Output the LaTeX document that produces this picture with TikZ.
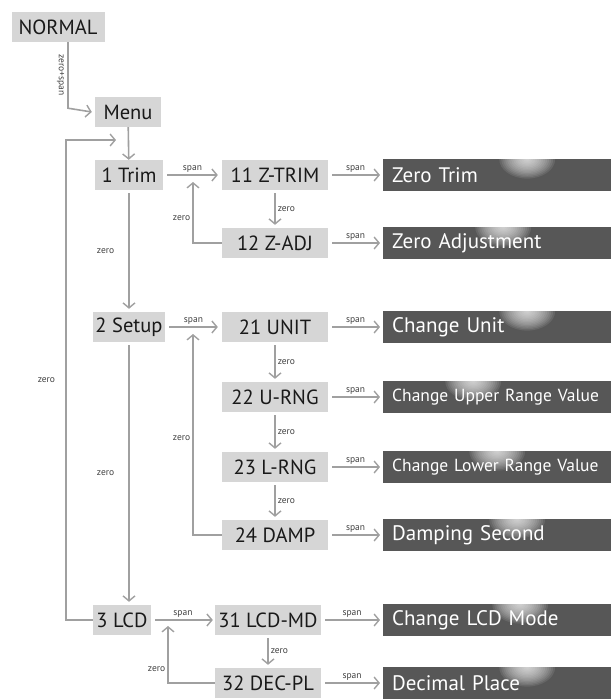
\documentclass[tikz,border=0pt]{standalone}
\usepackage{fontspec}
\setmainfont{PT Sans}
\usetikzlibrary{arrows.meta}
\definecolor{boxgray}{HTML}{D6D6D6}
\definecolor{bargray}{HTML}{575757}
\definecolor{linegray}{HTML}{A0A0A0}

\begin{document}
\begin{tikzpicture}[x=1pt, y=-1pt, >={Straight Barb[length=5pt,width=12pt,line width=1.4pt]},
    menubox/.style={fill=boxgray, inner sep=0pt, minimum height=30pt, text=black!90,
      font=\fontsize{20.5}{20.5}\selectfont},
    bar/.style={fill=bargray, anchor=west, inner ysep=0pt, inner xsep=9pt, minimum height=32pt,
      text width=210pt, align=left, text=white, font=\fontsize{21}{21}\selectfont,
      path picture={\foreach \k in {1,...,14}
        \fill[white, opacity=0.09] ([xshift=#1]path picture bounding box.north west)
          ellipse ({2*\k pt} and {1.4*\k pt});}},
    link/.style={draw=linegray, line width=1.6pt, ->},
    lbl/.style={font=\fontsize{9.5}{9.5}\selectfont, text=black!75, inner sep=2pt}]
    \useasboundingbox (0,0) rectangle (611,699);

    % Menu utama
    \node[menubox, minimum width=93pt] (normal) at (58,27) {NORMAL};
    \node[menubox, minimum width=66pt] (menu) at (128,112) {Menu};
    \draw[link] ([xshift=10pt]normal.south) -- node[lbl, rotate=-90, below=1pt] (zs) {zero+span} ++(0,66) coordinate (n1) -- ([xshift=-3pt]menu.west);

    % Trim
    \node[menubox, minimum width=68pt] (trim) at (129,175) {1 Trim};
    \node[menubox, minimum width=106pt] (ztrim) at (275,175) {11 Z-TRIM};
    \node[menubox, minimum width=106pt] (zadj) at (275,243) {12 Z-ADJ};
    \node[bar=144pt] (zerotrim) at (383,175) {Zero Trim};
    \node[bar=120pt] (zeroadj) at (383,243) {Zero Adjustment};
    \coordinate (ret1) at (193,182);
    \draw[link] (menu) -- (trim);
    \draw[link, shorten <=4pt, shorten >=4pt] (trim) -- node[lbl, above] (s1) {span} (ztrim);
    \draw[link, shorten <=3pt, shorten >=3pt] (ztrim) -- node[lbl, right] (z2) {zero} (zadj);
    \draw[link] (zadj.west) -| node[lbl, left, pos=0.7] (z3) {zero} (ret1);
    \draw[link, shorten <=4pt, shorten >=3pt] (ztrim) -- node[lbl, above] (s2) {span} (zerotrim);
    \draw[link, shorten <=4pt, shorten >=3pt] (zadj) -- node[lbl, above] (s3) {span} (zeroadj);

    % Setup
    \node[menubox, minimum width=72pt] (setup) at (129,327) {2 Setup};
    \node[menubox, minimum width=106pt] (unit) at (275,327) {21 UNIT};
    \node[menubox, minimum width=106pt] (urng) at (275,397) {22 U-RNG};
    \node[menubox, minimum width=106pt] (lrng) at (275,467) {23 L-RNG};
    \node[menubox, minimum width=106pt] (damp) at (275,535) {24 DAMP};
    \node[bar=144pt] (chunit) at (383,327) {Change Unit};
    \node[bar=90pt, font=\fontsize{17.5}{17.5}\selectfont] (chupper) at (383,397) {Change Upper Range Value};
    \node[bar=114pt, font=\fontsize{17.5}{17.5}\selectfont] (chlower) at (383,467) {Change Lower Range Value};
    \node[bar=134pt] (dampsec) at (383,535) {Damping Second};
    \coordinate (ret2) at (193,334);
    \draw[link, shorten <=3pt, shorten >=3pt] (trim) -- node[lbl, left=12pt] (z4) {zero} (setup);
    \draw[link, shorten <=4pt, shorten >=4pt] (setup) -- node[lbl, above] (s4) {span} (unit);
    \draw[link, shorten <=3pt, shorten >=3pt] (unit) -- node[lbl, right] (z5) {zero} (urng);
    \draw[link, shorten <=3pt, shorten >=3pt] (urng) -- node[lbl, right] (z6) {zero} (lrng);
    \draw[link, shorten <=3pt, shorten >=3pt] (lrng) -- node[lbl, right] (z7) {zero} (damp);
    \draw[link] (damp.west) -| node[lbl, left, pos=0.74] (z8) {zero} (ret2);
    \draw[link, shorten <=4pt, shorten >=3pt] (unit) -- node[lbl, above] (s5) {span} (chunit);
    \draw[link, shorten <=4pt, shorten >=3pt] (urng) -- node[lbl, above] (s6) {span} (chupper);
    \draw[link, shorten <=4pt, shorten >=3pt] (lrng) -- node[lbl, above] (s7) {span} (chlower);
    \draw[link, shorten <=4pt, shorten >=3pt] (damp) -- node[lbl, above] (s8) {span} (dampsec);

    % LCD
    \node[menubox, minimum width=58pt] (lcd) at (122,620) {3 LCD};
    \node[menubox, minimum width=106pt] (lcdmd) at (268,620) {31 LCD-MD};
    \node[menubox, minimum width=106pt] (decpl) at (268,683) {32 DEC-PL};
    \node[bar=137pt] (chlcd) at (383,620) {Change LCD Mode};
    \node[bar=144pt] (decplace) at (383,683) {Decimal Place};
    \coordinate (ret3) at (168,626);
    \coordinate (loopin) at (116,140);
    \draw[link, shorten <=3pt, shorten >=3pt] (setup.south) -- node[lbl, left=12pt] (z9) {zero} (setup.south |- lcd.north);
    \draw[link] (lcd.west) -- ++(-27,0) |- node[lbl, left=8pt, pos=0.25] (z10) {zero} (loopin);
    \draw[link, shorten <=4pt, shorten >=2pt] (lcd) -- node[lbl, above] (s9) {span} (lcdmd);
    \draw[link, shorten <=3pt, shorten >=3pt] (lcdmd) -- node[lbl, right] (z11) {zero} (decpl);
    \draw[link] (decpl.west) -| node[lbl, left, pos=0.62] (z12) {zero} (ret3);
    \draw[link, shorten <=4pt, shorten >=3pt] (lcdmd) -- node[lbl, above] (s10) {span} (chlcd);
    \draw[link, shorten <=4pt, shorten >=3pt] (decpl) -- node[lbl, above] (s11) {span} (decplace);
\end{tikzpicture}
\end{document}
